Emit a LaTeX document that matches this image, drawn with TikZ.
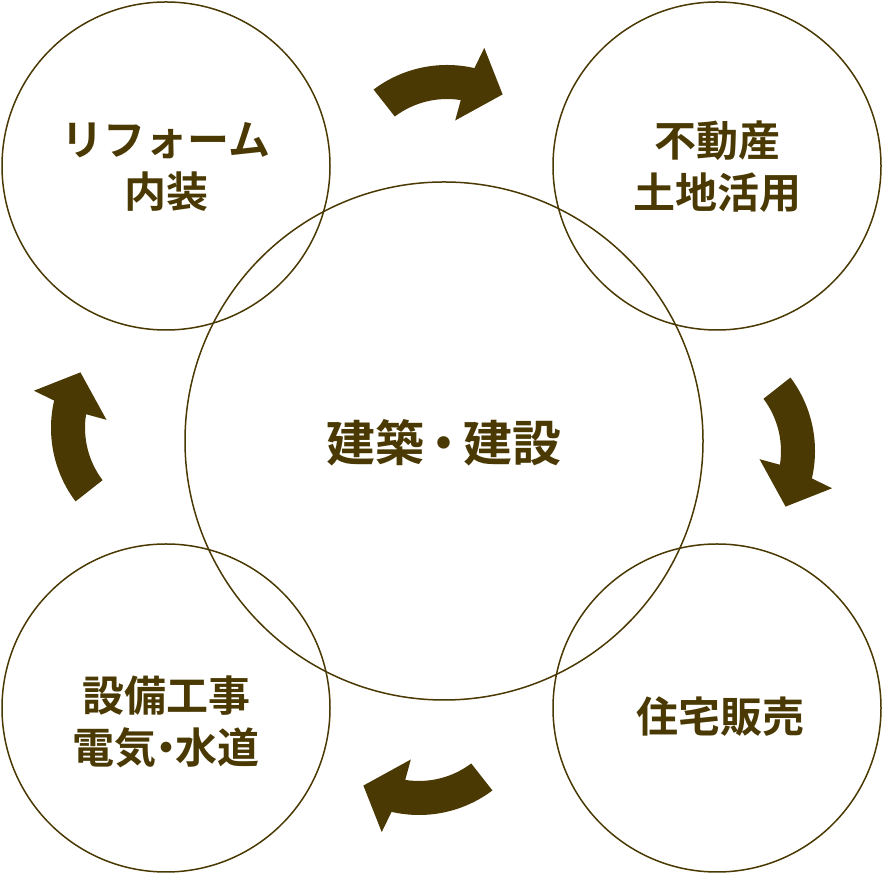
\documentclass[tikz,border=0pt]{standalone}
\usepackage{fontspec}
\setmainfont{Noto Sans CJK JP}[BoldFont={* Bold}]
\definecolor{ochre}{HTML}{4A3903}

\begin{document}
\begin{tikzpicture}[x=1pt,y=1pt]
      \tikzset{ring/.style={circle,draw=ochre,line width=1.5pt,minimum size=328pt,inner sep=0pt}}
      \tikzset{ringtext/.style={text=ochre,align=center,font=\bfseries\fontsize{42}{52}\selectfont}}
      \tikzset{swoosh/.style={fill=ochre}}
      \useasboundingbox (0,0) rectangle (883,874);
      \node[ring] (reform) at (166,708) {};
      \node[ring] (fudosan) at (717,708) {};
      \node[ring] (setsubi) at (166,166) {};
      \node[ring] (jutaku) at (717,166) {};
      \node[ring,minimum size=518pt] (kenchiku) at (444,433) {};
      \node[ringtext] (reform-t) at ([yshift=-1pt]reform.center) {リフォーム\\内装};
      \node[ringtext] (fudosan-t) at ([yshift=-1pt]fudosan.center) {不動産\\土地活用};
      \node[ringtext] (setsubi-t) at ([yshift=-14pt]setsubi.center) {設備工事\\電気\kern-.28em・\kern-.28em水道};
      \node[ringtext] (jutaku-t) at ([xshift=3pt,yshift=-9pt]jutaku.center) {住宅販売};
      \node[ringtext,font=\bfseries\fontsize{49}{58}\selectfont] (kenchiku-t) at ([yshift=-2pt]kenchiku.center) {建築\kern-.1em・\kern-.1em建設};
      % curved arrows, clockwise
      \foreach \cx/\cy/\rot in {447/687/0, 693/423/-90, 419/181/180, 173/446/90}
        \fill[swoosh,shift={(\cx,\cy)},rotate=\rot] (127:122) arc[start angle=127,end angle=77,radius=122]
          -- (75:144) -- (59:108) -- (83:67) -- (81:88) arc[start angle=81,end angle=127,radius=87] -- cycle;
    \end{tikzpicture}
\end{document}
